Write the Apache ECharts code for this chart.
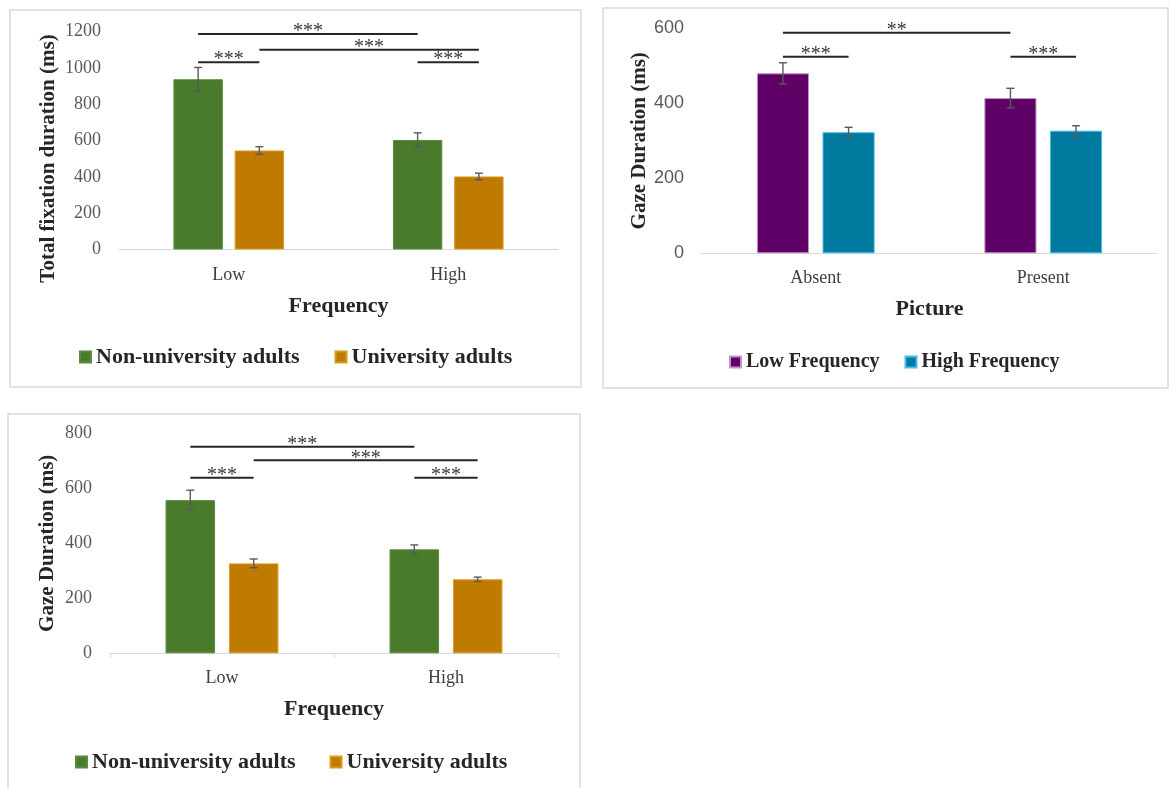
<!DOCTYPE html>
<html><head><meta charset="utf-8">
<script src="https://cdn.jsdelivr.net/npm/echarts@6/dist/echarts.min.js"></script>
<style>html,body{margin:0;padding:0;background:#fff;}#c{width:1171px;height:788px;}</style>
</head><body><div id="c"></div>
<script>
// ---------- Panel 1: Total fixation duration ----------
const p1Categories = ['Low', 'High'];
const p1SeriesNames = ['Non-university adults', 'University adults'];
const p1NonUni = [937, 603];
const p1Uni = [545, 402];
const p1NonUniErr = [65, 39];
const p1UniErr = [21, 18];
const p1YMax = 1200;
// [categoryA, seriesA, categoryB, seriesB, height, stars]
const p1Sig = [[0, 0, 1, 0, 1186, '***'], [0, 1, 1, 1, 1099, '***'], [0, 0, 0, 1, 1031, '***'], [1, 0, 1, 1, 1031, '***']];

// ---------- Panel 2: Gaze duration by picture ----------
const p2Categories = ['Absent', 'Present'];
const p2SeriesNames = ['Low Frequency', 'High Frequency'];
const p2Low = [480, 414];
const p2High = [323, 327];
const p2LowErr = [28, 26];
const p2HighErr = [13, 13];
const p2YMax = 600;
const p2Sig = [[0, 0, 1, 0, 588, '**'], [0, 0, 0, 1, 524, '***'], [1, 0, 1, 1, 524, '***']];

// ---------- Panel 3: Gaze duration by frequency ----------
const p3Categories = ['Low', 'High'];
const p3SeriesNames = ['Non-university adults', 'University adults'];
const p3NonUni = [557, 378];
const p3Uni = [327, 269];
const p3NonUniErr = [36, 16];
const p3UniErr = [16, 8];
const p3YMax = 800;
const p3Sig = [[0, 0, 1, 0, 751, '***'], [0, 1, 1, 1, 702, '***'], [0, 0, 0, 1, 638, '***'], [1, 0, 1, 1, 638, '***']];

const GREEN = '#4a7a2c', ORANGE = '#bf7b00', PURPLE = '#5e0066', TEAL = '#00799e';
const SERIF = "'Liberation Serif', 'Times New Roman', serif";
const SANS = "'Liberation Sans', Arial, sans-serif";

function errRender(vals, errs, s, barPct, gapPct) {
  return function (params, api) {
    const i = params.dataIndex;
    const band = api.size([1, 0])[0];
    const bw = band * barPct, gap = bw * gapPct;
    const off = (s === 0 ? -1 : 1) * (bw + gap) / 2;
    const hi = api.coord([i, vals[i] + errs[i]]);
    const lo = api.coord([i, vals[i] - errs[i]]);
    const x = hi[0] + off, cap = 4;
    const st = { stroke: '#595959', lineWidth: 1.4 };
    return { type: 'group', children: [
      { type: 'line', shape: { x1: x, y1: hi[1], x2: x, y2: lo[1] }, style: st },
      { type: 'line', shape: { x1: x - cap, y1: hi[1], x2: x + cap, y2: hi[1] }, style: st },
      { type: 'line', shape: { x1: x - cap, y1: lo[1], x2: x + cap, y2: lo[1] }, style: st }
    ]};
  };
}
function sigRender(sig, barPct, gapPct) {
  return function (params, api) {
    const d = sig[params.dataIndex];
    const band = api.size([1, 0])[0];
    const bw = band * barPct, gap = bw * gapPct;
    const off = s => (s === 0 ? -1 : 1) * (bw + gap) / 2;
    const pA = api.coord([d[0], d[4]]), pB = api.coord([d[2], d[4]]);
    const x1 = pA[0] + off(d[1]), x2 = pB[0] + off(d[3]), y = pA[1];
    return { type: 'group', children: [
      { type: 'line', shape: { x1: x1, y1: y, x2: x2, y2: y }, style: { stroke: '#262626', lineWidth: 2 } },
      { type: 'text', x: (x1 + x2) / 2, y: y + 8,
        style: { text: d[5], align: 'center', verticalAlign: 'bottom', textAlign: 'center', textVerticalAlign: 'bottom',
                 fontFamily: SERIF, fontSize: 20, fill: '#383838' } }
    ]};
  };
}

const panels = [
  { cats: p1Categories, names: p1SeriesNames, vals: [p1NonUni, p1Uni], errs: [p1NonUniErr, p1UniErr], sig: p1Sig,
    colors: [GREEN, ORANGE], borders: ['#5a8a3a', '#d89a20'], yMax: p1YMax, barPct: 0.225, gapPct: 0.24,
    grid: { left: 119, top: 31.5, width: 439, height: 218 }, xName: 'Frequency', yName: 'Total fixation duration (ms)',
    yNameGap: 60, yNamePad: [0, 36, 0, 0], xNameGap: 46, labelMargin: 17, yLabelFont: SERIF, ticks: false,
    legend: { left: 79, top: 346, fontSize: 22, itemGap: 35 } },
  { cats: p2Categories, names: p2SeriesNames, vals: [p2Low, p2High], errs: [p2LowErr, p2HighErr], sig: p2Sig,
    colors: [PURPLE, TEAL], borders: ['#c890c8', '#40c0e8'], yMax: p2YMax, barPct: 0.229, gapPct: 0.26,
    grid: { left: 702, top: 28.3, width: 455, height: 225 }, xName: 'Picture', yName: 'Gaze Duration (ms)',
    yNameGap: 51, yNamePad: 0, xNameGap: 45, labelMargin: 16, yLabelFont: SANS, ticks: false,
    legend: { left: 729, top: 352, fontSize: 20, itemGap: 25 } },
  { cats: p3Categories, names: p3SeriesNames, vals: [p3NonUni, p3Uni], errs: [p3NonUniErr, p3UniErr], sig: p3Sig,
    colors: [GREEN, ORANGE], borders: ['#5a8a3a', '#d89a20'], yMax: p3YMax, barPct: 0.221, gapPct: 0.28,
    grid: { left: 110, top: 433.3, width: 448, height: 220 }, xName: 'Frequency', yName: 'Gaze Duration (ms)',
    yNameGap: 52, yNamePad: 0, xNameGap: 45, labelMargin: 16, yLabelFont: SERIF, ticks: true,
    legend: { left: 75, top: 751, fontSize: 22, itemGap: 34 } }
];

const option = { animation: false, backgroundColor: '#fff', grid: [], xAxis: [], yAxis: [], legend: [], series: [],
  graphic: [
    { type: 'rect', shape: { x: 10, y: 10, width: 571, height: 377 }, style: { fill: 'none', stroke: '#d9d9d9', lineWidth: 1.5 }, silent: true },
    { type: 'rect', shape: { x: 603, y: 8, width: 565, height: 380 }, style: { fill: 'none', stroke: '#d9d9d9', lineWidth: 1.5 }, silent: true },
    { type: 'rect', shape: { x: 8, y: 414, width: 572, height: 380 }, style: { fill: 'none', stroke: '#d9d9d9', lineWidth: 1.5 }, silent: true }
  ]
};

panels.forEach((p, k) => {
  option.grid.push(p.grid);
  option.xAxis.push({ type: 'category', gridIndex: k, data: p.cats,
    axisLine: { lineStyle: { color: '#d9d9d9', width: 1.2 } },
    axisTick: { show: p.ticks, length: 5, lineStyle: { color: '#d9d9d9' } },
    axisLabel: { fontFamily: SERIF, fontSize: 18, color: '#404040', margin: p.labelMargin },
    name: p.xName, nameLocation: 'middle', nameGap: p.xNameGap,
    nameTextStyle: { fontFamily: SERIF, fontWeight: 'bold', fontSize: 22, color: '#262626' } });
  option.yAxis.push({ type: 'value', gridIndex: k, min: 0, max: p.yMax, interval: 200,
    splitLine: { show: false }, axisLine: { show: false }, axisTick: { show: false },
    axisLabel: { fontFamily: p.yLabelFont, fontSize: 18, color: '#595959', margin: 18, formatter: v => String(v) },
    name: p.yName, nameLocation: 'middle', nameGap: p.yNameGap,
    nameTextStyle: { fontFamily: SERIF, fontWeight: 'bold', fontSize: 21, color: '#262626', padding: p.yNamePad } });
  option.legend.push({ data: p.names, left: p.legend.left, top: p.legend.top, padding: 0,
    icon: 'rect', itemWidth: 11, itemHeight: 11, itemGap: p.legend.itemGap,
    textStyle: { fontFamily: SERIF, fontWeight: 'bold', fontSize: p.legend.fontSize, color: '#262626' } });
  for (let s = 0; s < 2; s++) {
    option.series.push({ type: 'bar', name: p.names[s], xAxisIndex: k, yAxisIndex: k, data: p.vals[s],
      barWidth: (p.barPct * 100) + '%', barGap: (p.gapPct * 100) + '%',
      itemStyle: { color: p.colors[s], borderColor: p.borders[s], borderWidth: 1 } });
  }
  for (let s = 0; s < 2; s++) {
    option.series.push({ type: 'custom', xAxisIndex: k, yAxisIndex: k, z: 5,
      renderItem: errRender(p.vals[s], p.errs[s], s, p.barPct, p.gapPct),
      data: p.vals[s].map((v, i) => [i, v]) });
  }
  option.series.push({ type: 'custom', xAxisIndex: k, yAxisIndex: k, z: 6,
    renderItem: sigRender(p.sig, p.barPct, p.gapPct),
    data: p.sig.map(d => [d[0], d[4]]) });
});

const chart = echarts.init(document.getElementById('c'), null, { renderer: 'canvas' });
chart.setOption(option);
</script>
</body></html>
